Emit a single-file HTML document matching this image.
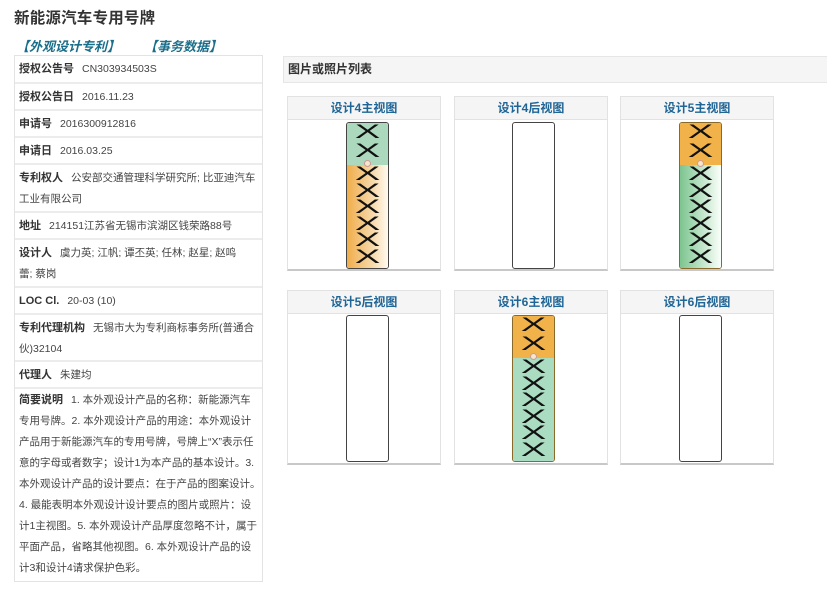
<!DOCTYPE html>
<html><head><meta charset="utf-8"><style>
*{margin:0;padding:0;box-sizing:border-box}
body{width:827px;height:592px;background:#fff;position:relative;overflow:hidden;font-family:"Liberation Sans","Noto Sans CJK SC",sans-serif;color:#333}
.a{position:absolute}
.title{left:14px;top:6px;font-size:15.5px;font-weight:bold;color:#333;letter-spacing:0.2px}
.lnk{top:36px;font-size:13px;font-weight:bold;font-style:italic;color:#1b6e8a}
.tbl{left:14px;top:55px;width:249px;border:1px solid #e3e3e3}
.row{border-bottom:2px solid #ececec;padding:3px 0 0 4px;font-size:10.5px;line-height:21px;color:#444;white-space:nowrap;overflow:hidden}
.row:last-child{border-bottom:none}
.row b{color:#333;margin-right:8px;font-size:11px}
.hdr{left:283px;top:56px;width:544px;height:27px;background:#f5f5f5;border:1px solid #e6e6e6;border-right:none;font-size:12px;font-weight:bold;line-height:25px;padding-left:4px;color:#333}
.card{width:154px;height:175px;background:#fff;border:1px solid #e2e2e2;border-bottom:2px solid #c8c8c8}
.ct{height:23px;background:#f5f5f5;border-bottom:1px solid #e2e2e2;text-align:center;font-size:12px;font-weight:bold;color:#1f6596;line-height:23px}
.plate{position:absolute;width:43px;height:147px;border:1.5px solid #444;border-radius:3px;overflow:hidden}
.top{position:absolute;left:0;top:0;width:100%;height:42px}
.bot{position:absolute;left:0;top:42px;width:100%;bottom:0}
.xs{position:absolute;left:0;width:100%;text-align:center;font-family:"Liberation Sans",sans-serif;font-size:19px;color:#111}
.xs span{display:block;transform:scaleX(2);}
.emb{position:absolute;left:17px;top:37px;width:7px;height:7px;border-radius:50%;background:#f4e6c8;border:1px solid #c99;}
</style></head><body>
<div class="a title">新能源汽车专用号牌</div>
<div class="a lnk" style="left:16px">【外观设计专利】</div>
<div class="a lnk" style="left:144px">【事务数据】</div>

<div class="a tbl">
<div class="row" style="height:28px"><b>授权公告号</b>CN303934503S</div>
<div class="row" style="height:27px"><b>授权公告日</b>2016.11.23</div>
<div class="row" style="height:27px"><b>申请号</b>2016300912816</div>
<div class="row" style="height:27px"><b>申请日</b>2016.03.25</div>
<div class="row" style="height:48px"><b>专利权人</b>公安部交通管理科学研究所; 比亚迪汽车<br>工业有限公司</div>
<div class="row" style="height:27px"><b>地址</b>214151江苏省无锡市滨湖区钱荣路88号</div>
<div class="row" style="height:48px"><b>设计人</b>虞力英; 江帆; 谭丕英; 任林; 赵星; 赵鸣<br>蕾; 蔡岗</div>
<div class="row" style="height:27px"><b>LOC Cl.</b>20-03 (10)</div>
<div class="row" style="height:47px"><b>专利代理机构</b>无锡市大为专利商标事务所(普通合<br>伙)32104</div>
<div class="row" style="height:27px"><b>代理人</b>朱建均</div>
<div class="row" style="height:192px;line-height:21px;padding-top:1px"><b>简要说明</b>1. 本外观设计产品的名称：新能源汽车<br>专用号牌。2. 本外观设计产品的用途：本外观设计<br>产品用于新能源汽车的专用号牌，号牌上“X”表示任<br>意的字母或者数字；设计1为本产品的基本设计。3.<br>本外观设计产品的设计要点：在于产品的图案设计。<br>4. 最能表明本外观设计设计要点的图片或照片：设<br>计1主视图。5. 本外观设计产品厚度忽略不计，属于<br>平面产品，省略其他视图。6. 本外观设计产品的设<br>计3和设计4请求保护色彩。</div>
</div>

<div class="a hdr">图片或照片列表</div>

<div class="a card" style="left:287px;top:96px"><div class="ct">设计4主视图</div></div>
<div class="a card" style="left:454px;top:96px"><div class="ct">设计4后视图</div></div>
<div class="a card" style="left:620px;top:96px"><div class="ct">设计5主视图</div></div>
<div class="a card" style="left:287px;top:290px"><div class="ct">设计5后视图</div></div>
<div class="a card" style="left:454px;top:290px"><div class="ct">设计6主视图</div></div>
<div class="a card" style="left:620px;top:290px"><div class="ct">设计6后视图</div></div>

<div class="plate" style="left:346px;top:122px">
 <div class="top" style="background:#acd9bd"></div>
 <div class="bot" style="background:linear-gradient(to right,#f0ad4a,#f6d7a6 60%,#fffaf0)"></div>
 <div class="xs" style="top:0px;line-height:19px"><span>X</span><span>X</span></div>
 <div class="xs" style="top:44px;line-height:16.6px"><span>X</span><span>X</span><span>X</span><span>X</span><span>X</span><span>X</span></div>
 <div class="emb"></div>
</div>
<div class="plate" style="left:512px;top:122px;background:#fff"></div>
<div class="plate" style="left:679px;top:122px;border-color:#8a6a2a">
 <div class="top" style="background:#f2b24a"></div>
 <div class="bot" style="background:linear-gradient(to right,#7cc48f,#c8e8d0 60%,#fafffa)"></div>
 <div class="xs" style="top:0px;line-height:19px"><span>X</span><span>X</span></div>
 <div class="xs" style="top:44px;line-height:16.6px"><span>X</span><span>X</span><span>X</span><span>X</span><span>X</span><span>X</span></div>
 <div class="emb"></div>
</div>
<div class="plate" style="left:346px;top:315px;background:#fff"></div>
<div class="plate" style="left:512px;top:315px;border-color:#8a6a2a">
 <div class="top" style="background:#f2b24a"></div>
 <div class="bot" style="background:#a9dcc0"></div>
 <div class="xs" style="top:0px;line-height:19px"><span>X</span><span>X</span></div>
 <div class="xs" style="top:44px;line-height:16.6px"><span>X</span><span>X</span><span>X</span><span>X</span><span>X</span><span>X</span></div>
 <div class="emb"></div>
</div>
<div class="plate" style="left:679px;top:315px;background:#fff"></div>
</body></html>
